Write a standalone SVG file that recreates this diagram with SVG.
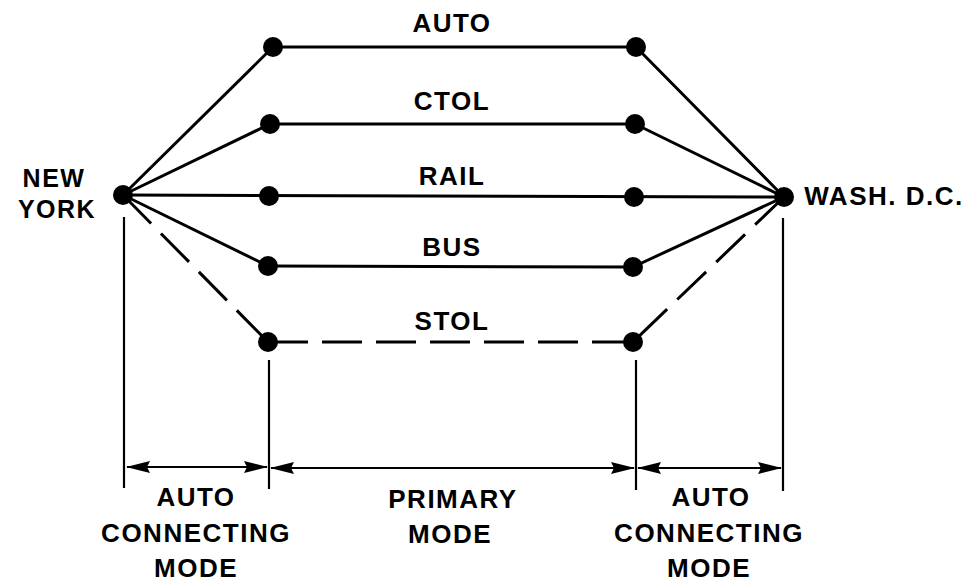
<svg xmlns="http://www.w3.org/2000/svg" width="974" height="585" viewBox="0 0 974 585">
<style>
  .t { font-family: "Liberation Sans", Arial, sans-serif; font-weight: bold; font-size: 26px; letter-spacing: 1.5px; fill: #000; text-anchor: middle; }
  .ln { stroke: #000; stroke-width: 3; fill: none; stroke-linecap: round; }
  .dash { stroke-dasharray: 40 14; stroke-linecap: butt; }
  .dim { stroke: #000; stroke-width: 2.2; fill: none; }
  .dot { fill: #000; }
</style>
<defs>
  <marker id="ah" markerUnits="userSpaceOnUse" markerWidth="26" markerHeight="14" refX="23" refY="7" orient="auto-start-reverse">
    <path d="M0,1 L24,7 L0,13 L3,7 Z" fill="#000"/>
  </marker>
</defs>
<rect width="974" height="585" fill="#fff"/>
<g id="connectors">
  <line class="ln" x1="123" y1="195" x2="273" y2="47"/>
  <line class="ln" x1="123" y1="195" x2="270" y2="124"/>
  <line class="ln" x1="123" y1="195" x2="784" y2="197"/>
  <line class="ln" x1="123" y1="195" x2="268" y2="266"/>
  <line class="ln dash" x1="123" y1="195" x2="268" y2="342"/>
  <line class="ln" x1="273" y1="47" x2="636" y2="47"/>
  <line class="ln" x1="270" y1="124" x2="635" y2="124"/>
  <line class="ln" x1="268" y1="266" x2="633" y2="267"/>
  <line class="ln dash" x1="268" y1="342" x2="633" y2="342"/>
  <line class="ln" x1="636" y1="47" x2="784" y2="197"/>
  <line class="ln" x1="635" y1="124" x2="784" y2="197"/>
  <line class="ln" x1="633" y1="267" x2="784" y2="197"/>
  <line class="ln dash" x1="784" y1="197" x2="633" y2="342"/>
</g>
<g id="dimensions">
  <line class="dim" x1="124" y1="217" x2="124" y2="488"/>
  <line class="dim" x1="269" y1="360" x2="269" y2="489"/>
  <line class="dim" x1="636" y1="360" x2="636" y2="490"/>
  <line class="dim" x1="783" y1="218" x2="783" y2="491"/>
  <line class="dim" x1="127" y1="467" x2="267" y2="467" marker-start="url(#ah)" marker-end="url(#ah)"/>
  <line class="dim" x1="271" y1="468" x2="634" y2="468" marker-start="url(#ah)" marker-end="url(#ah)"/>
  <line class="dim" x1="638" y1="468" x2="781" y2="468" marker-start="url(#ah)" marker-end="url(#ah)"/>
</g>
<g id="new-york"><circle class="dot" cx="123" cy="195" r="10"/>
  <text class="t" x="54" y="187" style="font-size:25px">NEW</text>
  <text class="t" x="57" y="218" style="font-size:25px">YORK</text></g>
<g id="wash-dc"><circle class="dot" cx="784" cy="197" r="10"/>
  <text class="t" x="884" y="205">WASH. D.C.</text></g>
<g id="auto-l"><circle class="dot" cx="273" cy="47" r="10"/></g>
<g id="auto-r"><circle class="dot" cx="636" cy="47" r="10"/></g>
<g id="ctol-l"><circle class="dot" cx="270" cy="124" r="10"/></g>
<g id="ctol-r"><circle class="dot" cx="635" cy="124" r="10"/></g>
<g id="rail-l"><circle class="dot" cx="269" cy="196" r="10"/></g>
<g id="rail-r"><circle class="dot" cx="634" cy="197" r="10"/></g>
<g id="bus-l"><circle class="dot" cx="268" cy="266" r="10"/></g>
<g id="bus-r"><circle class="dot" cx="633" cy="267" r="10"/></g>
<g id="stol-l"><circle class="dot" cx="268" cy="342" r="10"/></g>
<g id="stol-r"><circle class="dot" cx="633" cy="342" r="10"/></g>
<g id="labels">
  <text class="t" x="452" y="32">AUTO</text>
  <text class="t" x="452" y="110">CTOL</text>
  <text class="t" x="452" y="185">RAIL</text>
  <text class="t" x="452" y="256">BUS</text>
  <text class="t" x="452" y="330">STOL</text>
  <text class="t" x="196" y="506">AUTO</text>
  <text class="t" x="196" y="542">CONNECTING</text>
  <text class="t" x="196" y="577">MODE</text>
  <text class="t" x="453" y="508">PRIMARY</text>
  <text class="t" x="450" y="543">MODE</text>
  <text class="t" x="711" y="506">AUTO</text>
  <text class="t" x="709" y="542">CONNECTING</text>
  <text class="t" x="709" y="577">MODE</text>
</g>
</svg>
